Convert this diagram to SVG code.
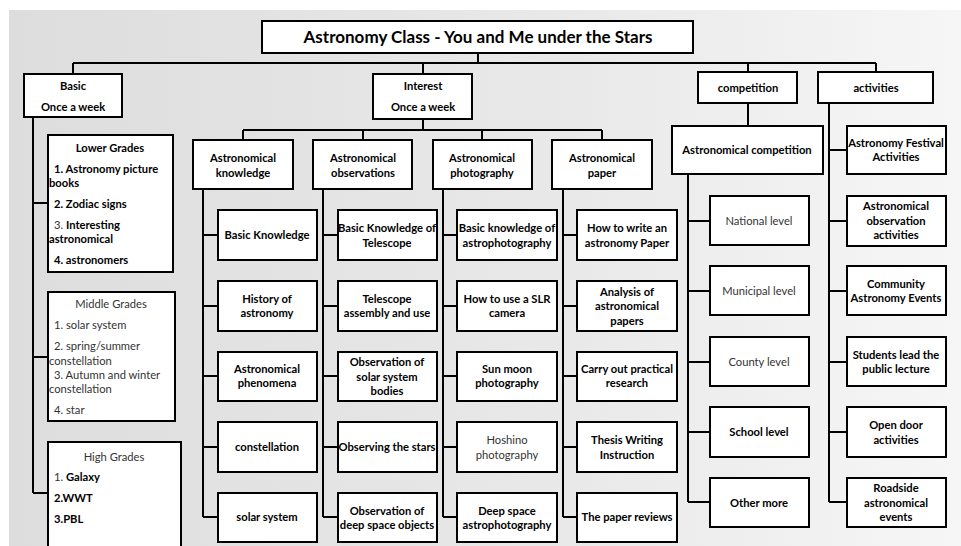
<svg xmlns="http://www.w3.org/2000/svg" width="961" height="546" viewBox="0 0 961 546">
<defs>
<linearGradient id="bg" x1="0" y1="0" x2="1" y2="0">
<stop offset="0" stop-color="#dddddd"/>
<stop offset="0.6" stop-color="#e9e9e9"/>
<stop offset="1" stop-color="#f6f6f6"/>
</linearGradient>
</defs>
<style>
.box{fill:#fff;stroke:#000;stroke-width:2}
.ln{fill:none;stroke:#000;stroke-width:2}
text{font-family:Lato,"Open Sans","Liberation Sans",sans-serif;font-size:11.2px;fill:#000}
.b{font-weight:bold;text-anchor:middle}
.n{font-weight:normal;text-anchor:middle;fill:#333}
.l{text-anchor:start}
.lb{font-weight:bold}
.ln2{font-weight:normal;fill:#333}
.title{font-size:17px;font-weight:bold;text-anchor:middle}
</style>
<rect x="0" y="0" width="961" height="546" fill="#fff"/>
<rect x="9" y="10" width="952" height="536" fill="url(#bg)"/>

<g id="connectors">
<path class="ln" d="M478 53V63M73 63H876M73 63V74M423 63V74M748 63V72M876 63V72"/>
<path class="ln" d="M423 119V130M243 130H602M243 130V140M363 130V140M482 130V140M602 130V140"/>
<path class="ln" d="M33 117V493M33 203H48M33 357H48M33 493H48"/>
<path class="ln" d="M203 189V517M203 235H218M203 306H218M203 376H218M203 447H218M203 517H218"/>
<path class="ln" d="M323 189V517M323 235H338M323 306H338M323 376H338M323 447H338M323 517H338"/>
<path class="ln" d="M443 189V517M443 235H457M443 306H457M443 376H457M443 447H457M443 517H457"/>
<path class="ln" d="M563 189V517M563 235H577M563 306H577M563 376H577M563 447H577M563 517H577"/>
<path class="ln" d="M748 103V126M688 174V502M688 221H710M688 291H710M688 362H710M688 432H710M688 502H710"/>
<path class="ln" d="M829 103V502M829 150H847M829 221H847M829 291H847M829 362H847M829 432H847M829 502H847"/>
</g>

<g id="title"><rect class="box" x="262" y="21" width="431" height="32"/><text class="title" x="478" y="43">Astronomy Class - You and Me under the Stars</text></g>

<g id="basic"><rect class="box" x="24" y="74" width="98" height="43"/><text class="b" x="73" y="90">Basic</text><text class="b" x="73" y="111">Once a week</text></g>
<g id="interest"><rect class="box" x="373" y="74" width="99" height="45"/><text class="b" x="423" y="90">Interest</text><text class="b" x="423" y="111">Once a week</text></g>
<g id="competition"><rect class="box" x="698" y="72" width="99" height="31"/><text class="b" x="748" y="92">competition</text></g>
<g id="activities"><rect class="box" x="818" y="72" width="115" height="31"/><text class="b" x="876" y="92">activities</text></g>

<g id="lower-grades"><rect class="box" x="48" y="135" width="125" height="137"/>
<text class="b" x="110" y="152">Lower Grades</text>
<text class="l lb" x="54" y="173">1. Astronomy picture</text>
<text class="l lb" x="49" y="187">books</text>
<text class="l lb" x="54" y="208">2. Zodiac signs</text>
<text class="l" x="54" y="229"><tspan class="ln2">3. </tspan><tspan class="lb">Interesting</tspan></text>
<text class="l lb" x="49" y="243">astronomical</text>
<text class="l lb" x="54" y="264">4. astronomers</text>
</g>
<g id="middle-grades"><rect class="box" x="48" y="292" width="127" height="129"/>
<text class="n" x="111" y="308">Middle Grades</text>
<text class="l ln2" x="54" y="329">1.  solar system</text>
<text class="l ln2" x="54" y="350">2.  spring/summer</text>
<text class="l ln2" x="49" y="365">constellation</text>
<text class="l ln2" x="54" y="379">3. Autumn and winter</text>
<text class="l ln2" x="49" y="393">constellation</text>
<text class="l ln2" x="54" y="414">4. star</text>
</g>
<g id="high-grades"><rect class="box" x="48" y="442" width="133" height="110"/>
<text class="n" x="114" y="461">High Grades</text>
<text class="l" x="54" y="481"><tspan class="ln2">1. </tspan><tspan class="lb">Galaxy</tspan></text>
<text class="l lb" x="54" y="502">2.WWT</text>
<text class="l lb" x="54" y="523">3.PBL</text>
</g>

<g id="astro-knowledge"><rect class="box" x="193" y="140" width="100" height="49"/><text class="b" x="243" y="162">Astronomical</text><text class="b" x="243" y="177">knowledge</text></g>
<g id="astro-observations"><rect class="box" x="313" y="140" width="99" height="49"/><text class="b" x="363" y="162">Astronomical</text><text class="b" x="363" y="177">observations</text></g>
<g id="astro-photography"><rect class="box" x="433" y="140" width="99" height="49"/><text class="b" x="482" y="162">Astronomical</text><text class="b" x="482" y="177">photography</text></g>
<g id="astro-paper"><rect class="box" x="552" y="140" width="100" height="49"/><text class="b" x="602" y="162">Astronomical</text><text class="b" x="602" y="177">paper</text></g>

<g id="k1"><rect class="box" x="218" y="210" width="99" height="50"/><text class="b" x="267" y="239">Basic Knowledge</text></g>
<g id="k2"><rect class="box" x="218" y="281" width="99" height="50"/><text class="b" x="267" y="303">History of</text><text class="b" x="267" y="317">astronomy</text></g>
<g id="k3"><rect class="box" x="218" y="352" width="99" height="49"/><text class="b" x="267" y="373">Astronomical</text><text class="b" x="267" y="387">phenomena</text></g>
<g id="k4"><rect class="box" x="218" y="422" width="99" height="50"/><text class="b" x="267" y="451">constellation</text></g>
<g id="k5"><rect class="box" x="218" y="493" width="99" height="49"/><text class="b" x="267" y="521">solar system</text></g>

<g id="o1"><rect class="box" x="338" y="210" width="99" height="50"/><text class="b" x="387" y="232">Basic Knowledge of</text><text class="b" x="387" y="247">Telescope</text></g>
<g id="o2"><rect class="box" x="338" y="281" width="99" height="50"/><text class="b" x="387" y="303">Telescope</text><text class="b" x="387" y="317">assembly and use</text></g>
<g id="o3"><rect class="box" x="338" y="352" width="99" height="49"/><text class="b" x="387" y="366">Observation of</text><text class="b" x="387" y="381">solar system</text><text class="b" x="387" y="395">bodies</text></g>
<g id="o4"><rect class="box" x="338" y="422" width="99" height="50"/><text class="b" x="387" y="451">Observing the stars</text></g>
<g id="o5"><rect class="box" x="338" y="493" width="99" height="49"/><text class="b" x="387" y="515">Observation of</text><text class="b" x="387" y="529">deep space objects</text></g>

<g id="p1"><rect class="box" x="457" y="210" width="100" height="50"/><text class="b" x="507" y="232">Basic knowledge of</text><text class="b" x="507" y="247">astrophotography</text></g>
<g id="p2"><rect class="box" x="457" y="281" width="100" height="50"/><text class="b" x="507" y="303">How to use a SLR</text><text class="b" x="507" y="317">camera</text></g>
<g id="p3"><rect class="box" x="457" y="352" width="100" height="49"/><text class="b" x="507" y="373">Sun moon</text><text class="b" x="507" y="387">photography</text></g>
<g id="p4"><rect class="box" x="457" y="422" width="100" height="50"/><text class="n" x="507" y="444">Hoshino</text><text class="n" x="507" y="459">photography</text></g>
<g id="p5"><rect class="box" x="457" y="493" width="100" height="49"/><text class="b" x="507" y="515">Deep space</text><text class="b" x="507" y="529">astrophotography</text></g>

<g id="w1"><rect class="box" x="577" y="210" width="100" height="50"/><text class="b" x="627" y="232">How to write an</text><text class="b" x="627" y="247">astronomy Paper</text></g>
<g id="w2"><rect class="box" x="577" y="281" width="100" height="50"/><text class="b" x="627" y="296">Analysis of</text><text class="b" x="627" y="310">astronomical</text><text class="b" x="627" y="325">papers</text></g>
<g id="w3"><rect class="box" x="577" y="352" width="100" height="49"/><text class="b" x="627" y="373">Carry out practical</text><text class="b" x="627" y="387">research</text></g>
<g id="w4"><rect class="box" x="577" y="422" width="100" height="50"/><text class="b" x="627" y="444">Thesis Writing</text><text class="b" x="627" y="459">Instruction</text></g>
<g id="w5"><rect class="box" x="577" y="493" width="100" height="49"/><text class="b" x="627" y="521">The paper reviews</text></g>

<g id="astro-competition"><rect class="box" x="672" y="126" width="151" height="48"/><text class="b" x="747" y="154">Astronomical competition</text></g>
<g id="c1"><rect class="box" x="710" y="196" width="99" height="49"/><text class="n" x="759" y="225">National level</text></g>
<g id="c2"><rect class="box" x="710" y="266" width="99" height="49"/><text class="n" x="759" y="295">Municipal level</text></g>
<g id="c3"><rect class="box" x="710" y="337" width="99" height="49"/><text class="n" x="759" y="366">County level</text></g>
<g id="c4"><rect class="box" x="710" y="407" width="99" height="50"/><text class="b" x="759" y="436">School level</text></g>
<g id="c5"><rect class="box" x="710" y="478" width="99" height="49"/><text class="b" x="759" y="507">Other more</text></g>

<g id="a1"><rect class="box" x="847" y="126" width="99" height="48"/><text class="b" x="896" y="147">Astronomy Festival</text><text class="b" x="896" y="161">Activities</text></g>
<g id="a2"><rect class="box" x="847" y="196" width="99" height="50"/><text class="b" x="896" y="210">Astronomical</text><text class="b" x="896" y="225">observation</text><text class="b" x="896" y="239">activities</text></g>
<g id="a3"><rect class="box" x="847" y="266" width="99" height="49"/><text class="b" x="896" y="288">Community</text><text class="b" x="896" y="302">Astronomy Events</text></g>
<g id="a4"><rect class="box" x="847" y="337" width="99" height="49"/><text class="b" x="896" y="359">Students lead the</text><text class="b" x="896" y="373">public lecture</text></g>
<g id="a5"><rect class="box" x="847" y="407" width="99" height="50"/><text class="b" x="896" y="429">Open door</text><text class="b" x="896" y="444">activities</text></g>
<g id="a6"><rect class="box" x="847" y="478" width="99" height="49"/><text class="b" x="896" y="492">Roadside</text><text class="b" x="896" y="507">astronomical</text><text class="b" x="896" y="521">events</text></g>
</svg>
